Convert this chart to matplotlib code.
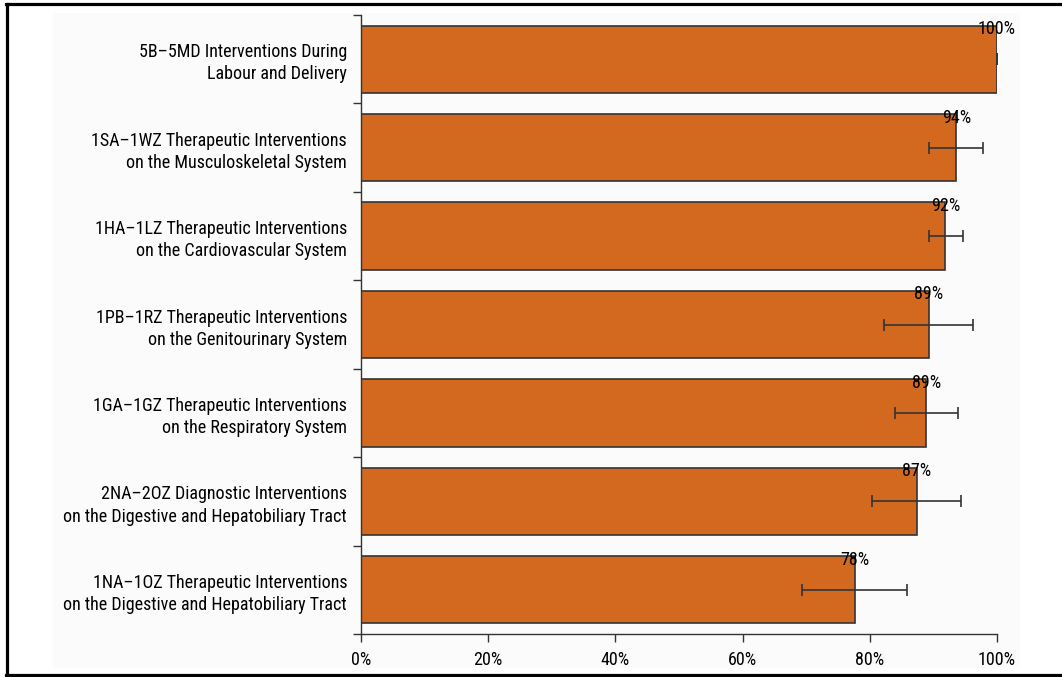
import numpy as np
import matplotlib
matplotlib.use("Agg")
import matplotlib.pyplot as plt
from matplotlib.patches import Rectangle
from matplotlib.lines import Line2D

plt.rcParams['font.family'] = ['Roboto Condensed', 'Liberation Sans', 'DejaVu Sans']

# data, top row first
categories = [
    "5B\u20135MD Interventions During\nLabour and Delivery",
    "1SA\u20131WZ Therapeutic Interventions\non the Musculoskeletal System",
    "1HA\u20131LZ Therapeutic Interventions\non the Cardiovascular System",
    "1PB\u20131RZ Therapeutic Interventions\non the Genitourinary System",
    "1GA\u20131GZ Therapeutic Interventions\non the Respiratory System",
    "2NA\u20132OZ Diagnostic Interventions\non the Digestive and Hepatobiliary Tract",
    "1NA\u20131OZ Therapeutic Interventions\non the Digestive and Hepatobiliary Tract",
]
values = [100.0, 93.6, 91.9, 89.3, 88.9, 87.4, 77.6]
err_low = [100.0, 89.3, 89.3, 82.2, 83.9, 80.3, 69.4]
err_high = [100.0, 97.8, 94.6, 96.2, 93.9, 94.4, 85.8]
value_labels = ["100%", "94%", "92%", "89%", "89%", "87%", "78%"]
xticks = [0, 20, 40, 60, 80, 100]

W, H = 1062, 677
fig = plt.figure(figsize=(W / 100, H / 100), dpi=100)

# faint grey panel behind the plot
fig.patches.append(Rectangle((53 / W, 1 - 668 / H), (1020 - 53) / W, (668 - 13) / H,
                             transform=fig.transFigure, facecolor='#fbfbfb',
                             edgecolor='none', zorder=-10))
# frame on top, left and bottom
for xs, ys in [((6, W), (4, 4)), ((7, 7), (4, 675)), ((6, W), (675, 675))]:
    fig.lines.append(Line2D([x / W for x in xs], [1 - y / H for y in ys],
                            transform=fig.transFigure, color='black', lw=2.3))

ax = fig.add_axes([361 / W, 1 - 634 / H, (997 - 361) / W, (634 - 15) / H])
ax.set_facecolor('none')

n = len(categories)
ypos = np.arange(n)
ax.barh(ypos, values, height=0.76, color='#d2691e', edgecolor='#333333', linewidth=1.2, zorder=2)

vals = np.array(values)
xerr = np.vstack([vals - np.array(err_low), np.array(err_high) - vals])
ax.errorbar(values, ypos, xerr=xerr, fmt='none', ecolor='#333333', elinewidth=1.2,
            capsize=4, capthick=1.2, zorder=3)

for y, v, lab in zip(ypos, values, value_labels):
    ax.text(v, y - 0.34, lab, ha='center', va='center', fontsize=13, clip_on=False, zorder=4)

ax.set_xlim(0, 100)
ax.set_ylim(n - 0.5, -0.5)
ax.set_xticks(xticks)
ax.set_xticklabels([f"{t}%" for t in xticks], fontsize=13)
ax.set_yticks(np.arange(n + 1) - 0.5)
ax.set_yticklabels([])
ax.set_yticks(ypos, minor=True)
ax.set_yticklabels(categories, minor=True, fontsize=13, linespacing=1.3)
ax.tick_params(axis='y', which='minor', length=0, pad=10)
ax.tick_params(axis='y', which='major', length=6, width=1, color='#333333')
ax.tick_params(axis='x', length=6, width=1, color='#333333', pad=6)

for s in ['top', 'right']:
    ax.spines[s].set_visible(False)
for s in ['left', 'bottom']:
    ax.spines[s].set_color('#333333')
    ax.spines[s].set_linewidth(1)

fig.savefig('out.png', dpi=100)
